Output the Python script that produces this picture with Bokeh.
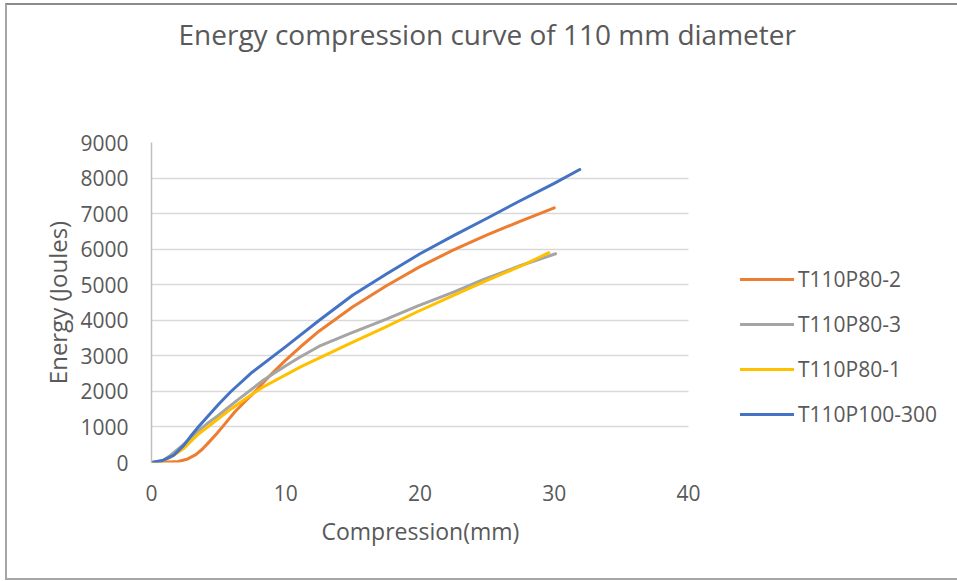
from bokeh.plotting import figure
from bokeh.models import FixedTicker, Legend, LegendItem, Range1d, Title
from bokeh.embed import file_html
from bokeh.resources import INLINE

# Compression (mm) and absorbed energy (J) for each specimen
x_p80_2 = [0, 1, 2, 2.7, 3.3, 3.8, 4.3, 4.9, 5.5, 6.2, 7.0, 7.6, 8.7, 10, 11.1, 12.5,
           15, 17.5, 20, 22.5, 25, 27.5, 30]
e_p80_2 = [0, 5, 30, 100, 220, 380, 580, 830, 1100, 1420, 1730, 1950, 2400, 2880, 3255, 3700,
           4380, 4970, 5510, 5980, 6400, 6790, 7160]

x_p80_3 = [0, 0.8, 1.4, 2.1, 2.9, 3.4, 4.15, 4.9, 6.4, 8.35, 10, 11.1, 12.5, 14.8, 17.5,
           19.8, 22.5, 24.7, 27.5, 30.1]
e_p80_3 = [0, 40, 200, 420, 675, 860, 1095, 1300, 1755, 2320, 2720, 2975, 3270, 3630, 4030,
           4400, 4790, 5140, 5540, 5870]

x_p80_1 = [0, 0.8, 1.4, 2.4, 3.4, 4.4, 5.9, 7.6, 8.35, 11.1, 14.8, 17.5, 19.8, 22.5, 24.7,
           27.5, 29.6]
e_p80_1 = [0, 30, 140, 395, 770, 1060, 1500, 1950, 2130, 2690, 3350, 3820, 4240, 4700, 5075,
           5520, 5900]

x_p100_300 = [0, 0.9, 1.66, 2.4, 2.9, 3.4, 4.2, 5.0, 5.9, 7.5, 10, 12.5, 15, 17.5, 20, 22.5,
              25, 27.5, 30, 31.9]
e_p100_300 = [0, 65, 205, 480, 730, 960, 1300, 1640, 1990, 2540, 3260, 4000, 4710, 5300,
              5870, 6380, 6870, 7370, 7850, 8240]

series_names = ["T110P80-2", "T110P80-3", "T110P80-1", "T110P100-300"]
series_colors = ["#ED7D31", "#A5A5A5", "#FFC000", "#4472C4"]

x_ticks = [0, 10, 20, 30, 40]
y_ticks = [0, 1000, 2000, 3000, 4000, 5000, 6000, 7000, 8000, 9000]
X_AXIS_MAX = 40
Y_AXIS_MAX = 9000

FONT = "Open Sans"
TEXT = "#595959"

# canvas geometry: the plotting area spans 0..40 mm over 537 px; the frame keeps
# running to the right edge so that the legend can sit beside the curves
W, H = 950, 573
LEFT, TOP, BOTTOM = 144, 120, 120
PLOT_W = 537
x_end = X_AXIS_MAX * (W + 2 - LEFT) / PLOT_W

p = figure(width=W, height=H, output_backend="svg", toolbar_location=None,
           x_range=Range1d(0, x_end), y_range=Range1d(0, Y_AXIS_MAX),
           min_border_left=LEFT, min_border_right=0, min_border_top=TOP,
           min_border_bottom=BOTTOM, background_fill_color="white",
           border_fill_color="white", outline_line_color=None)

# chart area frame (open on the right)
p.styles = {"box-sizing": "content-box", "overflow": "hidden",
            "margin-left": "5px", "margin-top": "3px",
            "border-left": "2px solid #A6A6A6", "border-top": "2px solid #8C8C8C",
            "border-bottom": "2px solid #A6A6A6"}

# title (outermost), with an empty spacer title between it and the plot
spacer = Title(text=" ", text_font=FONT, text_font_size="26px", standoff=44)
p.add_layout(spacer, "above")
p.title.text = "Energy compression curve of 110 mm diameter"
p.title.text_font = FONT
p.title.text_font_size = "28px"
p.title.text_font_style = "normal"
p.title.text_color = TEXT
p.title.align = "left"
p.title.offset = 27
p.title.standoff = 15

# axes
for ax in (p.xaxis[0], p.yaxis[0]):
    ax.major_tick_line_color = None
    ax.minor_tick_line_color = None
    ax.major_label_text_font = FONT
    ax.major_label_text_font_size = "21px"
    ax.major_label_text_color = TEXT
    ax.axis_label_text_font = FONT
    ax.axis_label_text_font_style = "normal"
    ax.axis_label_text_color = TEXT

p.xaxis.ticker = FixedTicker(ticks=x_ticks)
p.yaxis.ticker = FixedTicker(ticks=y_ticks)
p.xaxis.bounds = (0, X_AXIS_MAX)
p.yaxis.axis_label = "Energy (Joules)"
p.yaxis.axis_label_text_font_size = "24px"
p.xaxis.axis_line_color = None
p.yaxis.axis_line_color = "#BFBFBF"
p.yaxis.axis_line_width = 1.5
p.xaxis.major_label_standoff = 16
p.yaxis.major_label_standoff = 17
p.yaxis.axis_label_standoff = 3

# x axis title, centred under the 0..40 span
x_title = Title(text="Compression(mm)", text_font=FONT, text_font_size="23px",
                text_font_style="normal", text_color=TEXT, align="left",
                offset=170, standoff=18)
p.add_layout(x_title, "below")

p.xgrid.grid_line_color = None
p.ygrid.grid_line_color = "#D9D9D9"
p.ygrid.grid_line_width = 1.5
p.ygrid.cross_bounds = (0, X_AXIS_MAX)

# curves
xs = [x_p80_2, x_p80_3, x_p80_1, x_p100_300]
es = [e_p80_2, e_p80_3, e_p80_1, e_p100_300]
items = []
for name, color, xv, ev in zip(series_names, series_colors, xs, es):
    r = p.line(xv, ev, line_color=color, line_width=3, line_cap="round",
               line_join="round")
    items.append(LegendItem(label=name, renderers=[r]))

legend = Legend(items=items, location=(589, 34), orientation="vertical",
                glyph_width=54, glyph_height=20, label_height=20, label_standoff=4,
                spacing=17, padding=0, margin=0, border_line_color=None,
                background_fill_alpha=0, label_text_font=FONT,
                label_text_font_size="21px", label_text_color=TEXT)
p.add_layout(legend)

open("out.html", "w").write(file_html(p, INLINE))
